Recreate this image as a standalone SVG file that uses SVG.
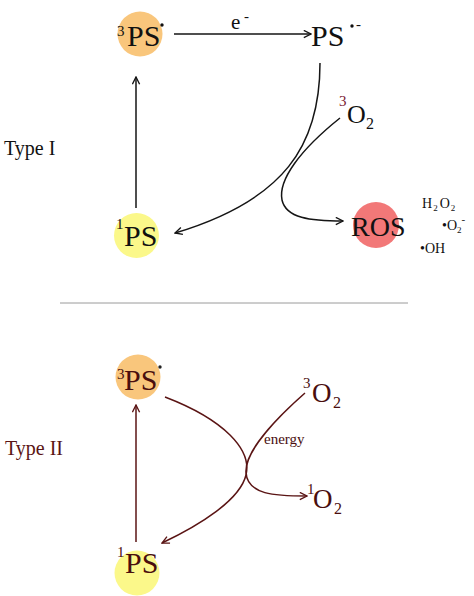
<svg xmlns="http://www.w3.org/2000/svg" width="474" height="596" viewBox="0 0 474 596">
<defs>
<style>
text{font-family:"Liberation Serif","Times New Roman",serif;}
.big{font-size:30px;}
.sup{font-size:15px;}
.k{fill:#111;}
.m{fill:#4a0e0e;}
.lk{fill:none;stroke:#151515;stroke-width:1.5;}
.lm{fill:none;stroke:#5a1414;stroke-width:1.5;}
</style>
<marker id="ak" viewBox="0 0 10 10" refX="9" refY="5" markerWidth="9" markerHeight="9" markerUnits="userSpaceOnUse" orient="auto">
<path d="M1,1 L9,5 L1,9" fill="none" stroke="#151515" stroke-width="1.5"/>
</marker>
<marker id="am" viewBox="0 0 10 10" refX="9" refY="5" markerWidth="9" markerHeight="9" markerUnits="userSpaceOnUse" orient="auto">
<path d="M1,1 L9,5 L1,9" fill="none" stroke="#5a1414" stroke-width="1.5"/>
</marker>
</defs>
<rect width="474" height="596" fill="#fff"/>

<g id="separator"><line x1="60" y1="303" x2="408" y2="303" stroke="#9a9a9a" stroke-width="1"/></g>

<g id="connectors">
<line class="lk" x1="174" y1="34" x2="311" y2="34" marker-end="url(#ak)"/>
<line class="lk" x1="136" y1="208" x2="136" y2="77" marker-end="url(#ak)"/>
<path class="lk" d="M320,63 C320,145 285,200 175,233" marker-end="url(#ak)"/>
<path class="lk" d="M340,118 C300,150 278,180 282,200 C286,218 310,221 343,221" marker-end="url(#ak)"/>
<line class="lm" x1="136" y1="542" x2="136" y2="405" marker-end="url(#am)"/>
<path class="lm" d="M165,397 C225,420 252,450 246,475 C240,500 200,525 162,543" marker-end="url(#am)"/>
<path class="lm" d="M305,393 C280,415 245,450 246,472 C247,495 275,496 307,496" marker-end="url(#am)"/>
</g>

<g id="label-e">
<text class="k" x="231" y="29" font-size="21">e</text>
<text class="k" x="244" y="21" font-size="15">-</text>
</g>

<g id="node-3PS-top">
<circle cx="140" cy="34" r="22.5" fill="#f9c67c"/>
<text class="k sup" x="117" y="36">3</text>
<text class="k big" x="127" y="46">PS</text>
<circle cx="162" cy="25" r="1.7" fill="#111"/>
</g>

<g id="node-PSanion">
<text class="k big" x="311" y="46">PS</text>
<circle cx="352" cy="26" r="1.7" fill="#111"/>
<text class="k" x="356" y="29" font-size="15">-</text>
</g>

<g id="node-3O2-top">
<text class="sup" x="339" y="106" fill="#7a2030">3</text>
<text class="k" x="347" y="123" font-size="26">O</text>
<text class="k" x="366" y="129" font-size="16">2</text>
</g>

<g id="label-typeI"><text class="k" x="4" y="155" font-size="20">Type I</text></g>

<g id="node-1PS-top">
<circle cx="136.5" cy="235.5" r="22.5" fill="#fbf88a"/>
<text class="k sup" x="116" y="229">1</text>
<text class="k big" x="124" y="246">PS</text>
</g>

<g id="node-ROS">
<circle cx="376" cy="225" r="23" fill="#f27878"/>
<text class="k" x="351" y="236" font-size="28">ROS</text>
</g>

<g id="ros-species">
<text class="k" x="422" y="208" font-size="14">H<tspan font-size="9" dy="3" dx="1">2</tspan><tspan dy="-3" dx="2">O</tspan><tspan font-size="9" dy="3" dx="1">2</tspan></text>
<text class="k" x="442" y="230" font-size="14">•O<tspan font-size="9" dy="3">2</tspan><tspan font-size="11" dy="-10">-</tspan></text>
<text class="k" x="420" y="253" font-size="14">•OH</text>
</g>

<g id="node-3PS-bottom">
<circle cx="138" cy="377" r="22.5" fill="#f9c67c"/>
<text class="m sup" x="117" y="379">3</text>
<text class="m big" x="124" y="390">PS</text>
<circle cx="160" cy="367" r="1.7" fill="#222"/>
</g>

<g id="label-typeII"><text x="5" y="455" font-size="20" fill="#5a1414">Type II</text></g>

<g id="node-3O2-bottom">
<text class="m sup" x="303" y="388">3</text>
<text class="m" x="312" y="402" font-size="27">O</text>
<text class="m" x="333" y="408" font-size="16">2</text>
</g>

<g id="label-energy"><text class="m" x="264" y="444" font-size="15">energy</text></g>

<g id="node-1O2">
<text class="m sup" x="307" y="494">1</text>
<text class="m" x="313" y="508" font-size="27">O</text>
<text class="m" x="334" y="514" font-size="16">2</text>
</g>

<g id="node-1PS-bottom">
<circle cx="137" cy="573" r="22.5" fill="#fbf88a"/>
<text class="m sup" x="117" y="557">1</text>
<text class="m big" x="125" y="573">PS</text>
</g>
</svg>
